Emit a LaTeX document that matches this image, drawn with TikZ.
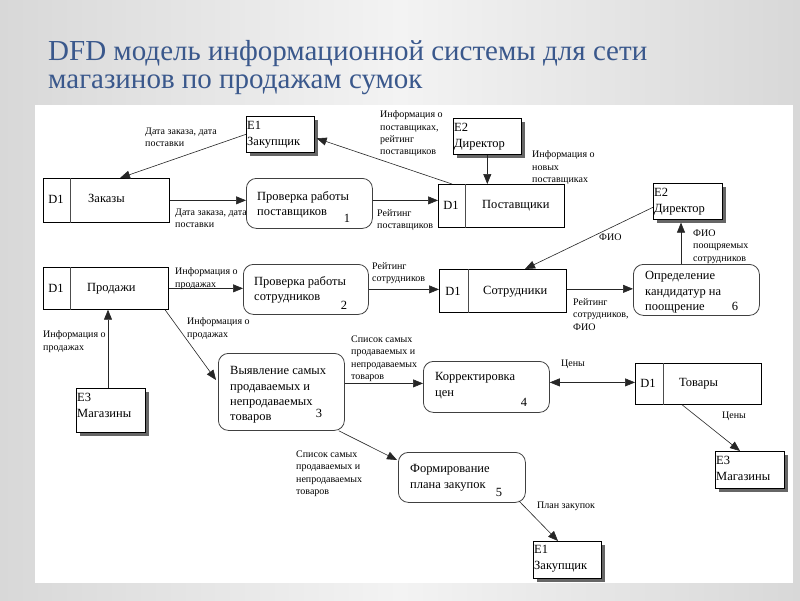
\documentclass[tikz,border=0pt]{standalone}
\usepackage{fontspec}
\setmainfont{LiberationSerif}[Extension=.ttf, UprightFont=*-Regular, BoldFont=*-Bold, ItalicFont=*-Italic, BoldItalicFont=*-BoldItalic]
\usetikzlibrary{arrows.meta,shadows}
\definecolor{titleblue}{RGB}{58,88,140}
\definecolor{bgside}{RGB}{216,216,216}
\definecolor{bgmid}{RGB}{243,243,243}
\begin{document}
\begin{tikzpicture}[x=1pt,y=-1pt,
  ent/.style={draw=black, line width=0.6pt, fill=white, anchor=north west, inner sep=0pt,
    drop shadow={shadow xshift=3.5pt, shadow yshift=-3.5pt, fill=black!60, opacity=1}},
  store/.style={draw=black, line width=0.7pt, fill=white, anchor=north west, inner sep=0pt},
  proc/.style={draw=black!75, line width=0.8pt, fill=white, rounded corners=10pt, anchor=north west, inner sep=0pt},
  divline/.style={draw=black!70, line width=0.7pt},
  ntext/.style={font=\fontsize{12.5}{15.3}\selectfont, inner sep=0pt, align=left, anchor=north west},
  etext/.style={font=\fontsize{12.5}{16}\selectfont, inner sep=0pt, align=left, anchor=north west},
  stext/.style={font=\fontsize{12.5}{15}\selectfont, inner sep=0pt, anchor=mid west},
  dtext/.style={font=\fontsize{12.5}{15}\selectfont, inner sep=0pt},
  num/.style={font=\fontsize{12.5}{15}\selectfont, inner sep=0pt},
  lbl/.style={font=\fontsize{10}{12.3}\selectfont, inner sep=0pt, align=left, anchor=north west, text=black},
  ttl/.style={font=\fontsize{29}{32}\selectfont, text=titleblue, inner sep=0pt, anchor=base west},
  flow/.style={draw=black!85, line width=0.6pt, -{Triangle[length=10pt,width=8pt]}},
  flow2/.style={draw=black!85, line width=0.6pt, {Triangle[length=10pt,width=8pt]}-{Triangle[length=10pt,width=8pt]}}
]
\useasboundingbox (0,0) rectangle (800,600);
\shade[left color=bgside, right color=bgside, middle color=bgmid] (0,0) rectangle (800,600);
\fill[white] (35,105) rectangle (793,583);

% title
\node[ttl] (t1) at (48,60) {DFD модель информационной системы для сети};
\node[ttl] (t2) at (48,88) {магазинов по продажам сумок};

% flow labels
\node[lbl] (l1) at (145,127.6) {Дата заказа, дата\\поставки};
\node[lbl] (l2) at (175,208.6) {Дата заказа, дата\\поставки};
\node[lbl] (l3) at (377,209.6) {Рейтинг\\поставщиков};
\node[lbl] (l4) at (380,110.6) {Информация о\\поставщиках,\\рейтинг\\поставщиков};
\node[lbl] (l5) at (532,150.6) {Информация о\\новых\\поставщиках};
\node[lbl] (l6) at (599,233.5) {ФИО};
\node[lbl] (l7) at (693,229.7) {ФИО\\поощряемых\\сотрудников};
\node[lbl] (l8) at (573,298.6) {Рейтинг\\сотрудников,\\ФИО};
\node[lbl] (l9) at (175,267.6) {Информация о\\продажах};
\node[lbl] (l10) at (372,262.6) {Рейтинг\\сотрудников};
\node[lbl] (l11) at (43,330.6) {Информация о\\продажах};
\node[lbl] (l12) at (187,317.6) {Информация о\\продажах};
\node[lbl] (l13) at (351,335.6) {Список самых\\продаваемых и\\непродаваемых\\товаров};
\node[lbl] (l14) at (561,359.6) {Цены};
\node[lbl] (l15) at (722,411.6) {Цены};
\node[lbl] (l16) at (296,450.6) {Список самых\\продаваемых и\\непродаваемых\\товаров};
\node[lbl] (l17) at (537,501.6) {План закупок};

% external entities
\node[ent, minimum width=68pt, minimum height=36pt] (e1t) at (246,116) {};
\node[etext] (e1tt) at (247,120.8) {E1\\Закупщик};
\node[ent, minimum width=68pt, minimum height=36pt] (e2t) at (453,118) {};
\node[etext] (e2tt) at (454,122.8) {E2\\Директор};
\node[ent, minimum width=69pt, minimum height=36pt] (e2r) at (653,183) {};
\node[etext] (e2rt) at (654,187.8) {E2\\Директор};
\node[ent, minimum width=69pt, minimum height=44pt] (e3l) at (76,388) {};
\node[etext] (e3lt) at (77,392.8) {E3\\Магазины};
\node[ent, minimum width=69pt, minimum height=37pt] (e3r) at (715,451) {};
\node[etext] (e3rt) at (716,455.8) {E3\\Магазины};
\node[ent, minimum width=68pt, minimum height=37pt] (e1b) at (533,541) {};
\node[etext] (e1bt) at (534,544.8) {E1\\Закупщик};

% data stores
\node[store, minimum width=126pt, minimum height=44pt] (zak) at (43,178) {};
\draw[divline] ([xshift=27pt]zak.north west) -- ([xshift=27pt]zak.south west);
\node[dtext] (zakd) at (56,199) {D1};
\node[stext] (zakn) at (88,200) {Заказы};

\node[store, minimum width=126pt, minimum height=43pt] (post) at (438,184) {};
\draw[divline] ([xshift=27pt]post.north west) -- ([xshift=27pt]post.south west);
\node[dtext] (postd) at (451,205) {D1};
\node[stext] (postn) at (482,206) {Поставщики};

\node[store, minimum width=125pt, minimum height=42pt] (prod) at (43,267) {};
\draw[divline] ([xshift=27pt]prod.north west) -- ([xshift=27pt]prod.south west);
\node[dtext] (prodd) at (56,288) {D1};
\node[stext] (prodn) at (87,289) {Продажи};

\node[store, minimum width=127pt, minimum height=43pt] (sotr) at (439,269) {};
\draw[divline] ([xshift=29pt]sotr.north west) -- ([xshift=29pt]sotr.south west);
\node[dtext] (sotrd) at (453,291) {D1};
\node[stext] (sotrn) at (483,292) {Сотрудники};

\node[store, minimum width=126pt, minimum height=41pt] (tov) at (635,363) {};
\draw[divline] ([xshift=28pt]tov.north west) -- ([xshift=28pt]tov.south west);
\node[dtext] (tovd) at (648,383) {D1};
\node[stext] (tovn) at (679,384) {Товары};

% processes
\node[proc, minimum width=126pt, minimum height=50pt] (p1) at (246,178) {};
\node[ntext] (p1t) at (257,191) {Проверка работы\\поставщиков};
\node[num] (p1n) at (347,218) {1};

\node[proc, minimum width=125pt, minimum height=50pt] (p2) at (243,264) {};
\node[ntext] (p2t) at (254,276.5) {Проверка работы\\сотрудников};
\node[num] (p2n) at (344,305) {2};

\node[proc, minimum width=126pt, minimum height=77pt] (p3) at (218,353) {};
\node[ntext] (p3t) at (230,366.5) {Выявление самых\\продаваемых и\\непродаваемых\\товаров};
\node[num] (p3n) at (319,413) {3};

\node[proc, minimum width=126pt, minimum height=51pt] (p4) at (423,361) {};
\node[ntext] (p4t) at (435,372.5) {Корректировка\\цен};
\node[num] (p4n) at (524,402) {4};

\node[proc, minimum width=127pt, minimum height=50pt] (p5) at (398,452) {};
\node[ntext] (p5t) at (410,464.5) {Формирование\\плана закупок};
\node[num] (p5n) at (499,492) {5};

\node[proc, minimum width=126pt, minimum height=51pt] (p6) at (633,264) {};
\node[ntext] (p6t) at (645,271.5) {Определение\\кандидатур на\\поощрение};
\node[num] (p6n) at (735,306) {6};

% flows
\draw[flow] (e1t.west) -- ([xshift=77pt]zak.north west);
\draw[flow] (zak.east) -- (zak.east -| p1.west);
\draw[flow] ([yshift=3pt]p1.east) -- ([yshift=3pt]p1.east -| post.west);
\draw[flow] ([xshift=14pt]post.north west) -- ([xshift=2pt,yshift=-4pt]e1t.east);
\draw[flow] (e2t.south) -- (e2t.south |- post.north);
\draw[flow] ([yshift=-6pt]e2r.west) -- ([xshift=86pt]sotr.north west);
\draw[flow] ([xshift=48pt]p6.north west) -- ([xshift=28pt,yshift=-3pt]e2r.south west);
\draw[flow] ([yshift=2pt]sotr.east) -- ([yshift=2pt]sotr.east -| p6.west);
\draw[flow] (prod.east) -- (prod.east -| p2.west);
\draw[flow] (p2.east) -- (p2.east -| sotr.west);
\draw[flow] ([xshift=32pt]e3l.north west) -- ([xshift=32pt]e3l.north west |- prod.south);
\draw[flow] ([xshift=122pt]prod.south west) -- ([xshift=-2pt,yshift=-27pt]p3.north west);
\draw[flow] ([yshift=8.5pt]p3.east) -- ([yshift=8.5pt]p3.east -| p4.west);
\draw[flow2] ([yshift=4.5pt]p4.east) -- ([yshift=4.5pt]p4.east -| tov.west);
\draw[flow] ([xshift=47pt]tov.south west) -- ([xshift=25pt]e3r.north west);
\draw[flow] ([xshift=-6pt]p3.south east) -- ([xshift=-1pt,yshift=-8pt]p5.north west);
\draw[flow] ([xshift=-7pt,yshift=2pt]p5.south east) -- ([xshift=25pt]e1b.north west);
\end{tikzpicture}
\end{document}
